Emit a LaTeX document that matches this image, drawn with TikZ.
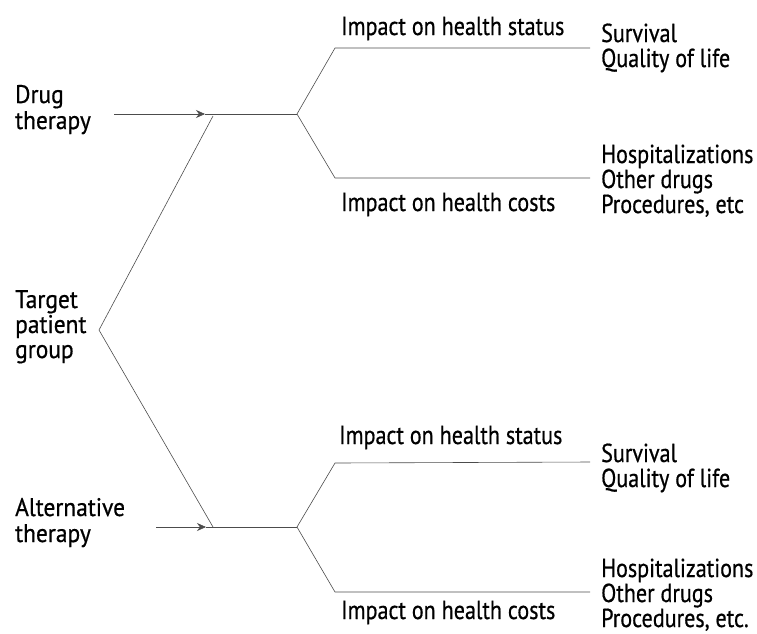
\documentclass[tikz,border=0pt]{standalone}
\usepackage{fontspec}
\setmainfont{PT Sans}[FakeStretch=0.85,FakeBold=0.6]
\newfontfamily\leftfont{PT Sans}[FakeStretch=0.92,FakeBold=0.6]
\usetikzlibrary{arrows.meta}
\begin{document}
\begin{tikzpicture}[x=1pt,y=-1pt,
  lbl/.style={inner sep=0pt,anchor=base west,align=left,font=\leftfont\fontsize{25.5}{26}\selectfont},
  txt/.style={inner sep=0pt,anchor=base west,align=left,font=\fontsize{26}{25}\selectfont},
  conn/.style={line width=0.6pt,black!70},
  arr/.style={conn,-{Stealth[length=9pt,width=8pt]}}]
\useasboundingbox (0,0) rectangle (757,633);
% left labels (anchor = baseline of last line)
\node[lbl] (drug) at (15,129) {Drug\\therapy};
\node[lbl,font=\leftfont\fontsize{25.5}{25}\selectfont] (target) at (15,358) {Target\\patient\\group};
\node[lbl] (alt) at (15,542) {Alternative\\therapy};
% impact labels
\node[txt] (hsD) at (341,35) {Impact on health status};
\node[txt] (hcD) at (341,211) {Impact on health costs};
\node[txt] (hsA) at (339,444) {Impact on health status};
\node[txt] (hcA) at (341,619) {Impact on health costs};
% outcome labels
\node[txt] (oSD) at (601,67) {Survival\\Quality of life};
\node[txt] (oCD) at (601,213) {Hospitalizations\\Other drugs\\Procedures, etc};
\node[txt] (oSA) at (601,487) {Survival\\Quality of life};
\node[txt] (oCA) at (601,627) {Hospitalizations\\Other drugs\\Procedures, etc.};
% coordinates
\coordinate (dS) at (114,114);
\coordinate (dT) at (205,114);
\coordinate (dJ) at (213,116);
\coordinate (dK) at (297,114);
\coordinate (dU) at (335,48);
\coordinate (dUe) at (590,48);
\coordinate (dL) at (335,178);
\coordinate (dLe) at (590,178);
\coordinate (tV) at (99,330);
\coordinate (aS) at (156,527);
\coordinate (aT) at (206,527);
\coordinate (aJ) at (213,527);
\coordinate (aK) at (297,527);
\coordinate (aU) at (335,463);
\coordinate (aUe) at (590,462);
\coordinate (aL) at (335,592);
\coordinate (aLe) at (590,592);
% connectors
\draw[arr] (dS) -- (dT);
\draw[conn] (dT) -- (dK);
\draw[conn] (dUe) -- (dU) -- (dK) -- (dL) -- (dLe);
\draw[arr] (aS) -- (aT);
\draw[conn] (aT) -- (aK);
\draw[conn] (aUe) -- (aU) -- (aK) -- (aL) -- (aLe);
\draw[conn] (dJ) -- (tV) -- (aJ);
\end{tikzpicture}
\end{document}
